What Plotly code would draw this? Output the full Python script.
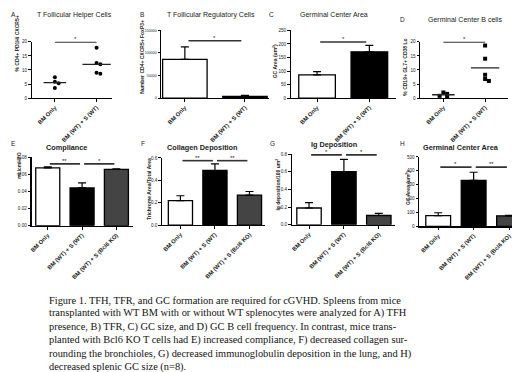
import numpy as np
import plotly.graph_objects as go

W, H = 520, 372

# ---------------- data ----------------
cats2 = ["BM Only", "BM (WT) + S (WT)"]
cats3 = ["BM Only", "BM (WT) + S (WT)", "BM (WT) + S (Bcl6 KO)"]

tfh_bm = [7.4, 5.8, 5.3, 3.6]
tfh_bms = [17.9, 12.5, 12.0, 9.0, 8.7]

tfr_mean = [86000, 4000]
tfr_sem = [27500, 2000]

gc_mean = [86, 171]
gc_sem = [12, 24]

gcb_bm = [2.0, 1.5, 0.8, 0.5]
gcb_bms = [18.7, 14.0, 8.3, 6.8, 6.1]

comp_mean = [0.0677, 0.0442, 0.0658]
comp_sem = [0.0011, 0.0058, 0.0007]

coll_mean = [0.218, 0.488, 0.268]
coll_sem = [0.044, 0.059, 0.032]

ig_mean = [0.19, 0.60, 0.105]
ig_sem = [0.06, 0.14, 0.025]

gca_mean = [78, 332, 76]
gca_sem = [20, 58, 4]

# significance brackets: (group from, group to, level, label)
sig_A = [(0, 1, 20, "*")]
sig_B = [(0, 1, 127000, "*")]
sig_C = [(0, 1, 207, "*")]
sig_D = [(0, 1, 20, "*")]
sig_E = [(0, 1, 0.0723, "**"), (1, 2, 0.0723, "*")]
sig_F = [(0, 1, 0.576, "**"), (1, 2, 0.576, "**")]
sig_G = [(0, 1, 0.79, "*"), (1, 2, 0.79, "*")]
sig_H = [(0, 1, 427, "*"), (1, 2, 427, "**")]

caption = [
    "Figure 1. TFH, TFR, and GC formation are required for cGVHD. Spleens from mice",
    "transplanted with WT BM with or without WT splenocytes were analyzed for A) TFH",
    "presence, B) TFR, C) GC size, and D) GC B cell frequency. In contrast, mice trans-",
    "planted with Bcl6 KO T cells had E) increased compliance, F) decreased collagen sur-",
    "rounding the bronchioles, G) decreased immunoglobulin deposition in the lung, and H)",
    "decreased splenic GC size (n=8).",
]

# ---------------- style / layout ----------------
SANS = "Liberation Sans, Arial, sans-serif"
SERIF = "Liberation Serif, Times New Roman, serif"
bar_colors3 = ["white", "black", "#444444"]
bar_colors2 = ["white", "black"]

fig = go.Figure()
layout_axes = {}
annotations = []


def ax_names(k):
    return ("x" if k == 1 else f"x{k}", "y" if k == 1 else f"y{k}",
            "xaxis" if k == 1 else f"xaxis{k}", "yaxis" if k == 1 else f"yaxis{k}")


def setup_axes(k, px_x, px_y, xrange, yrange, dtick, tickfmt, cats, yfont=4.6):
    xr, yr, xn, yn = ax_names(k)
    layout_axes[xn] = dict(
        domain=[px_x[0] / W, px_x[1] / W], range=xrange, anchor=yr,
        tickvals=list(range(len(cats))), ticktext=[f"<b>{c}</b>" for c in cats], tickangle=-45,
        showline=True, linecolor="black", linewidth=1.4, ticks="outside",
        ticklen=2.5, tickwidth=1, tickcolor="black", showgrid=False, zeroline=False,
        tickfont=dict(family=SANS, size=5.8, color="#222"), fixedrange=True,
    )
    layout_axes[yn] = dict(
        domain=[1 - px_y[1] / H, 1 - px_y[0] / H], range=yrange, anchor=xr,
        dtick=dtick, tick0=0, tickformat=tickfmt,
        showline=True, linecolor="black", linewidth=1.4, ticks="outside",
        ticklen=2.5, tickwidth=1, tickcolor="black", showgrid=False, zeroline=False,
        tickfont=dict(family=SANS, size=yfont, color="#222"), fixedrange=True,
    )
    return xr, yr


def add_sig(xr, yr, sigs, pad):
    for a, b, lvl, lab in sigs:
        fig.add_trace(go.Scatter(x=[a + pad, b - pad], y=[lvl, lvl], mode="lines",
                                 line=dict(color="#333", width=1.6), xaxis=xr, yaxis=yr,
                                 hoverinfo="skip", cliponaxis=False))
        annotations.append(dict(x=(a + b) / 2, y=lvl, xref=xr, yref=yr, text=lab,
                                showarrow=False, yanchor="bottom", yshift=-1, borderpad=0,
                                font=dict(family=SANS, size=6, color="#222")))


def dodge(vals, tol):
    offs = []
    prev_v, prev_o = None, 0.0
    for v in vals:
        if prev_v is not None and abs(v - prev_v) < tol:
            o = 0.09 if prev_o <= 0 else -0.09
        else:
            o = 0.0
        offs.append(o)
        prev_v, prev_o = v, o
    return offs


def dot_panel(k, px_x, px_y, groups, sigs, symbol):
    xr, yr = setup_axes(k, px_x, px_y, [-0.55, 1.36 if k == 1 else 1.55], [0, 20], 5, "d", cats2)
    for i, g in enumerate(groups):
        offs = dodge(g, 1.0)
        fig.add_trace(go.Scatter(x=[i + o for o in offs], y=g, mode="markers",
                                 marker=dict(color="black", size=4, symbol=symbol),
                                 xaxis=xr, yaxis=yr, cliponaxis=False, hoverinfo="skip"))
        m = float(np.mean(g))
        hw = 0.27 if i == 0 else 0.34
        fig.add_trace(go.Scatter(x=[i - hw, i + hw], y=[m, m], mode="lines",
                                 line=dict(color="#222", width=1.3),
                                 xaxis=xr, yaxis=yr, hoverinfo="skip"))
    add_sig(xr, yr, sigs, 0.0)


def bar_panel(k, px_x, px_y, xrange, yrange, dtick, fmt, means, sems, cats, colors, width, sigs,
              yfont=4.6):
    xr, yr = setup_axes(k, px_x, px_y, xrange, yrange, dtick, fmt, cats, yfont)
    fig.add_trace(go.Bar(
        x=list(range(len(means))), y=means, width=width,
        marker=dict(color=colors, line=dict(color="black", width=1.3)),
        error_y=dict(type="data", symmetric=False, array=sems, arrayminus=[0] * len(sems),
                     color="black", thickness=1.2, width=4),
        xaxis=xr, yaxis=yr, hoverinfo="skip"))
    add_sig(xr, yr, sigs, 0.06)


# Top row
dot_panel(1, (22, 102), (32.3, 89.3), [tfh_bm, tfh_bms], sig_A, "circle")
bar_panel(2, (152, 260), (20.7, 89.3), [-0.39, 1.4], [0, 150000], 50000, "d",
          tfr_mean, tfr_sem, cats2, bar_colors2, 0.74, sig_B, yfont=3.6)
bar_panel(3, (282, 387), (20.7, 89.3), [-0.5, 1.5], [0, 250], 50, "d",
          gc_mean, gc_sem, cats2, bar_colors2, 0.7, sig_C)
dot_panel(4, (412, 500), (32.3, 89.3), [gcb_bm, gcb_bms], sig_D, "square")

# Bottom row
bar_panel(5, (21.7, 123), (149.3, 218.7), [-0.47, 2.47], [0, 0.08], 0.02, ".2f",
          comp_mean, comp_sem, cats3, bar_colors3, 0.7, sig_E)
bar_panel(6, (152.7, 256), (150, 218), [-0.53, 2.45], [0, 0.6], 0.2, ".1f",
          coll_mean, coll_sem, cats3, bar_colors3, 0.7, sig_F)
bar_panel(7, (283, 386), (146, 217.7), [-0.49, 2.45], [0, 0.8], 0.2, ".1f",
          ig_mean, ig_sem, cats3, bar_colors3, 0.7, sig_G)
bar_panel(8, (411, 517), (149, 219.3), [-0.53, 2.45], [0, 500], 100, "d",
          gca_mean, gca_sem, cats3, bar_colors3, 0.7, sig_H)


def px_ann(x, y, text, size, bold=False, angle=0, family=SANS, xanchor="center", color="#222"):
    annotations.append(dict(
        x=x / W, y=1 - y / H, xref="paper", yref="paper", text=f"<b>{text}</b>" if bold else text,
        showarrow=False, xanchor=xanchor, yanchor="middle", textangle=angle, borderpad=0,
        font=dict(family=family, size=size, color=color)))


# panel titles
px_ann(65, 5, "T Follicular Helper Cells", 7)
px_ann(202, 5, "T Follicular Regulatory Cells", 7)
px_ann(325, 5, "Germinal Center Area", 7)
px_ann(457, 10, "Germinal Center B cells", 7)
px_ann(57, 139, "Compliance", 7.3, bold=True)
px_ann(193, 139, "Collagen Deposition", 7.3, bold=True)
px_ann(325, 136, "Ig Deposition", 7.3, bold=True)
px_ann(453, 139, "Germinal Center Area", 7.3, bold=True)

# panel letters
for lx, ly, lt in [(4, 5, "A"), (133, 5, "B"), (263, 5, "C"), (394, 10, "D"),
                   (4, 135, "E"), (134, 135, "F"), (264, 135, "G"), (394, 135, "H")]:
    px_ann(lx, ly, lt, 6.5)

# y-axis titles
px_ann(7, 34, "% CD4+ PD1Hi CXCR5+", 5.0, bold=True, angle=-90)
px_ann(133, 47, "Number CD4+ CXCR5+ FoxP3+", 5.0, bold=True, angle=-90)
px_ann(266, 52, "GC Area (um<sup>2</sup>)", 5.0, bold=True, angle=-90)
px_ann(397, 58, "% CD19+ GL7+ CD38 Lo", 5.0, bold=True, angle=-90)
px_ann(9, 157, "mL/cmH2O", 5.0, bold=True, angle=-90)
px_ann(139, 181, "Trichrome Area/Total Area", 5.0, bold=True, angle=-90)
px_ann(269, 177, "Ig deposition/100 um<sup>2</sup>", 5.0, bold=True, angle=-90)
px_ann(399, 180, "GC Area (um<sup>2</sup>)", 5.0, bold=True, angle=-90)

# caption
for i, line in enumerate(caption):
    px_ann(38, 294.0 + i * 13.6, line, 10.4, family=SERIF, xanchor="left", color="#111")

fig.update_layout(
    width=W, height=H, margin=dict(l=0, r=0, t=0, b=0),
    paper_bgcolor="white", plot_bgcolor="white", showlegend=False,
    annotations=annotations, bargap=0, **layout_axes,
)

fig.write_html("out.html", config={"displayModeBar": False, "staticPlot": True})
